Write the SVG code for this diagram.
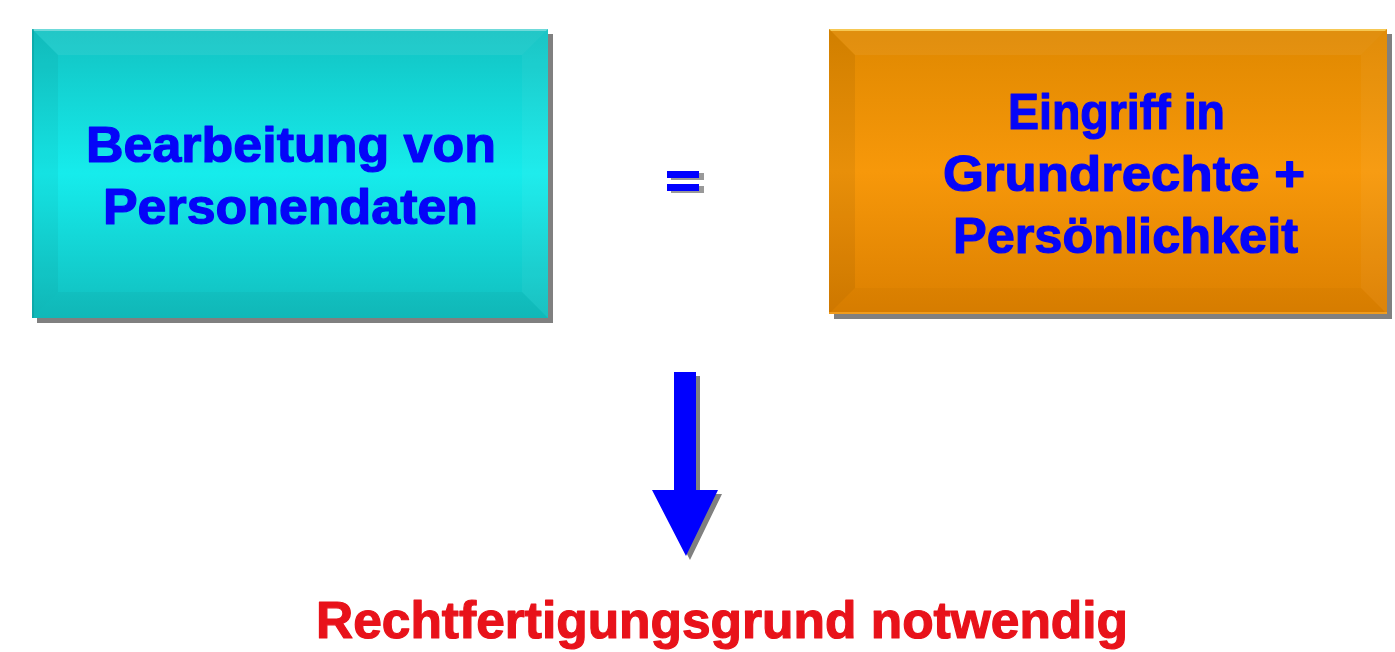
<svg xmlns="http://www.w3.org/2000/svg" width="1395" height="652" viewBox="0 0 1395 652">
<style>
.t{font-family:"Liberation Sans",Arial,sans-serif;font-weight:bold;font-size:50px;text-anchor:middle;stroke-width:1.2px;stroke-linejoin:round}
.blue{fill:#0505f8;stroke:#0505f8}
.red{fill:#e8121a;stroke:#e8121a;font-size:52px}
.shadow{fill:#808080}
</style>
<defs>
<linearGradient id="gc" x1="0" y1="0" x2="0" y2="1">
<stop offset="0" stop-color="#12c2c2"/>
<stop offset="0.5" stop-color="#16ecec"/>
<stop offset="1" stop-color="#11bebe"/>
</linearGradient>
<linearGradient id="go" x1="0" y1="0" x2="0" y2="1">
<stop offset="0" stop-color="#df8800"/>
<stop offset="0.5" stop-color="#f7980a"/>
<stop offset="1" stop-color="#db7f00"/>
</linearGradient>
</defs>
<rect width="1395" height="652" fill="#ffffff"/>

<g id="node-bearbeitung">
<rect class="shadow" x="37" y="34" width="516" height="289"/>
<rect x="32" y="29" width="516" height="289" fill="url(#gc)"/>
<polygon points="32,29 548,29 522,55 58,55" fill="#ffffff" opacity="0.07"/>
<polygon points="32,29 548,29 546,31 34,31" fill="#ffffff" opacity="0.35"/>
<polygon points="32,29 58,55 58,292 32,318" fill="#000000" opacity="0.04"/>
<polygon points="548,29 522,55 522,292 548,318" fill="#ffffff" opacity="0.04"/>
<polygon points="32,318 58,292 522,292 548,318" fill="#000000" opacity="0.03"/>
<rect x="32" y="29" width="2" height="289" fill="#0a9a9a" opacity="0.5"/>
<text class="t blue" x="291" y="162" textLength="410" lengthAdjust="spacingAndGlyphs">Bearbeitung von</text>
<text class="t blue" x="290.5" y="224" textLength="375" lengthAdjust="spacingAndGlyphs">Personendaten</text>
</g>

<g id="node-eingriff">
<rect class="shadow" x="834" y="34" width="558" height="285"/>
<rect x="829" y="29" width="558" height="285" fill="url(#go)"/>
<polygon points="829,29 1387,29 1361,55 855,55" fill="#ffffff" opacity="0.06"/>
<polygon points="829,29 1387,29 1385,31 831,31" fill="#ffe070" opacity="0.7"/>
<polygon points="829,29 855,55 855,288 829,314" fill="#000000" opacity="0.06"/>
<polygon points="1387,29 1361,55 1361,288 1387,314" fill="#ffffff" opacity="0.04"/>
<polygon points="829,314 855,288 1361,288 1387,314" fill="#000000" opacity="0.02"/>
<rect x="829" y="312" width="558" height="2" fill="#ffb030" opacity="0.6"/>
<text class="t blue" x="1116.5" y="129" textLength="217" lengthAdjust="spacingAndGlyphs">Eingriff in</text>
<text class="t blue" x="1124" y="191" textLength="362" lengthAdjust="spacingAndGlyphs">Grundrechte +</text>
<text class="t blue" x="1125.5" y="253" textLength="345" lengthAdjust="spacingAndGlyphs">Persönlichkeit</text>
</g>

<g id="connectors">
<g id="equals">
<rect class="shadow" x="671" y="173" width="33" height="7" opacity="0.8"/>
<rect class="shadow" x="671" y="186" width="33" height="7" opacity="0.8"/>
<rect x="667" y="171" width="32" height="7" fill="#0000ff"/>
<rect x="667" y="184" width="32" height="7" fill="#0000ff"/>
</g>
<g id="arrow">
<polygon class="shadow" points="678,376 700,376 700,494 722,494 690,560 656,494 678,494"/>
<polygon points="674,372 696,372 696,490 718,490 686,556 652,490 674,490" fill="#0000ff"/>
</g>
</g>

<g id="node-rechtfertigung">
<text class="t red" x="722" y="638" textLength="812" lengthAdjust="spacingAndGlyphs">Rechtfertigungsgrund notwendig</text>
</g>
</svg>
